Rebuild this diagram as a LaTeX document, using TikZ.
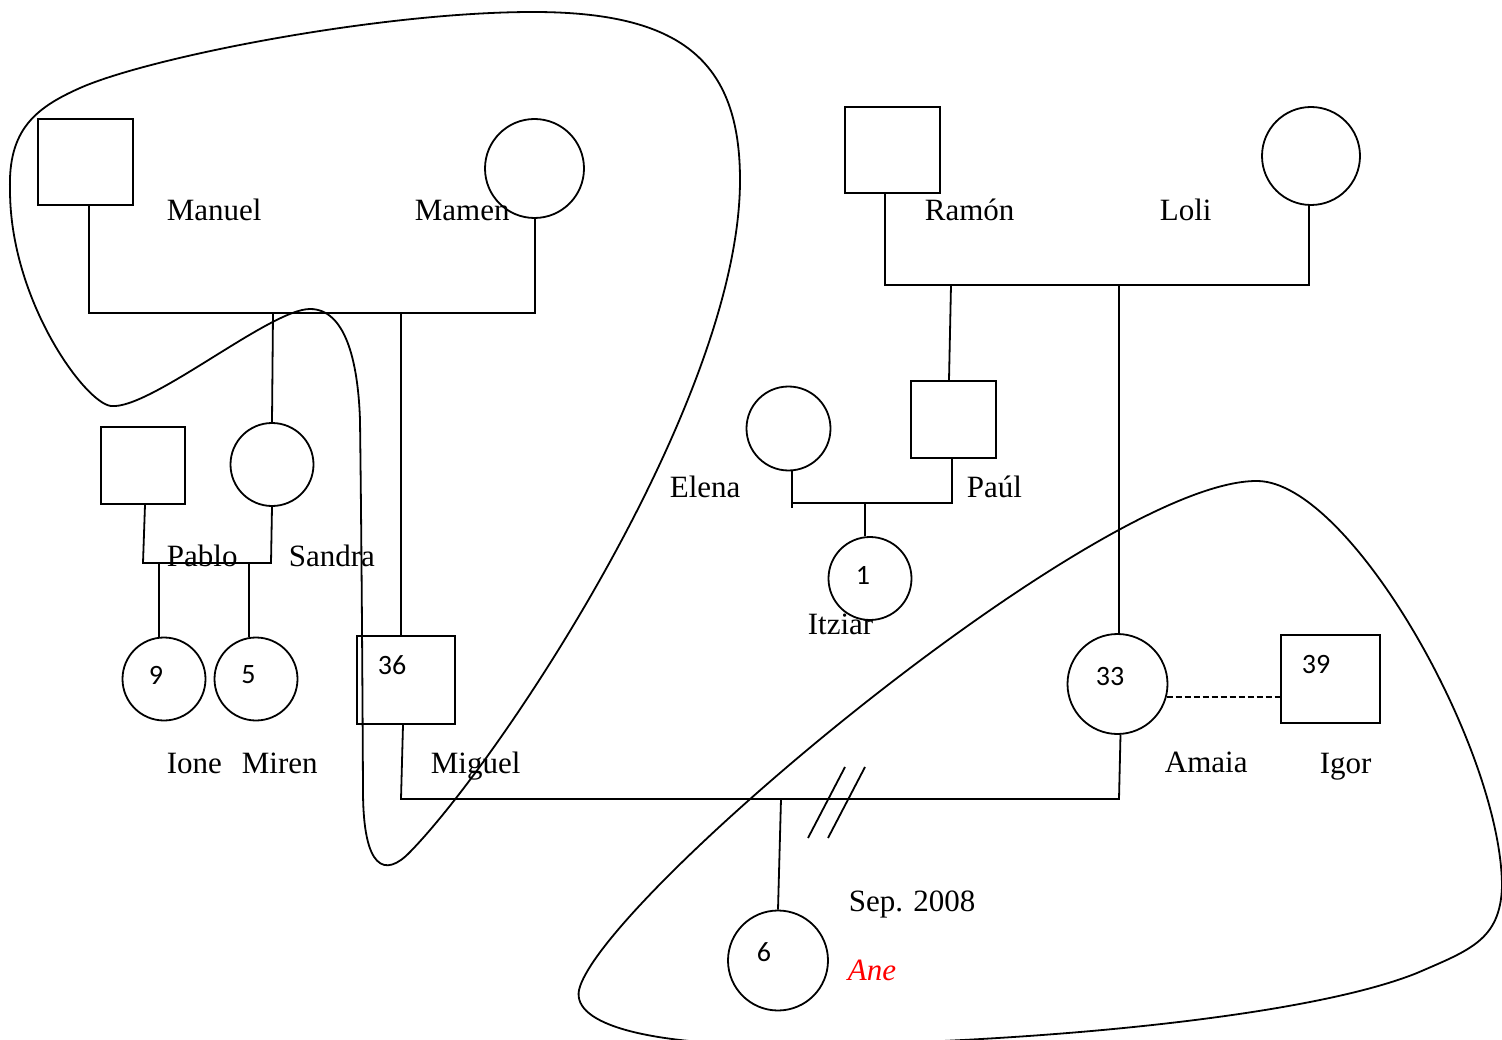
\documentclass[tikz,border=0pt]{standalone}
\usepackage{fontspec}
\setmainfont{Liberation Serif}
\newfontfamily\numfont{Carlito}
\begin{document}
\begin{tikzpicture}[x=1pt,y=-1pt, line width=1.8pt,
  lbl/.style={font=\fontsize{31}{37}\selectfont, inner sep=0pt, anchor=base west},
  num/.style={font=\numfont\fontsize{28}{34}\selectfont, inner sep=0pt},
  male/.style={draw, rectangle, inner sep=0pt},
  female/.style={draw, circle, inner sep=0pt},
  group/.style={line width=1.8pt},
  sep/.style={dash pattern=on 6pt off 3pt}]
\useasboundingbox (0,0) rectangle (1502,1040);
\clip (0,0) rectangle (1502,1040);

% ---- persons ----
\node[male, minimum width=95pt, minimum height=86pt] (manuel) at (85.5,162) {};
\node[female, minimum size=99pt] (mamen) at (534.5,168.5) {};
\node[male, minimum width=95pt, minimum height=86pt] (ramon) at (892.5,150) {};
\node[female, minimum size=98pt] (loli) at (1311,156) {};
\node[male, minimum width=84pt, minimum height=77pt] (pablo) at (143,465.5) {};
\node[female, minimum size=83pt] (sandra) at (272,464.5) {};
\node[female, minimum size=84pt] (elena) at (788.5,428.5) {};
\node[male, minimum width=85pt, minimum height=77pt] (paul) at (953.5,419.5) {};
\node[female, minimum size=83pt] (itziar) at (870,578.5) {};
\node[female, minimum size=83pt] (ione) at (164,679) {};
\node[female, minimum size=83pt] (miren) at (256,679) {};
\node[male, minimum width=98pt, minimum height=88pt] (miguel) at (406,680) {};
\node[female, minimum size=100pt] (amaia) at (1117.5,684) {};
\node[male, minimum width=99pt, minimum height=88pt] (igor) at (1330.5,679) {};
\node[female, minimum size=100pt] (ane) at (778,960.5) {};

% ---- ages ----
\node[num] (n9) at (156,675) {9};
\node[num] (n5) at (248.5,675) {5};
\node[num] (n36) at (392,665) {36};
\node[num] (n1) at (863,575) {1};
\node[num] (n33) at (1110,676.5) {33};
\node[num] (n39) at (1316,664.5) {39};
\node[num] (n6) at (764,952) {6};

% ---- names ----
\node[lbl] (lManuel) at (166,221) {Manuel};
\node[lbl] (lMamen) at (414,221) {Mamen};
\node[lbl] (lRamon) at (924,221) {Ramón};
\node[lbl] (lLoli) at (1159,221) {Loli};
\node[lbl] (lElena) at (669,497) {Elena};
\node[lbl] (lPaul) at (966,497) {Paúl};
\node[lbl] (lPablo) at (166,566) {Pablo};
\node[lbl] (lSandra) at (288,566) {Sandra};
\node[lbl] (lItziar) at (807,634) {Itziar};
\node[lbl] (lIone) at (166,773) {Ione};
\node[lbl] (lMiren) at (241,773) {Miren};
\node[lbl] (lMiguel) at (430,773) {Miguel};
\node[lbl] (lAmaia) at (1164,772) {Amaia};
\node[lbl] (lIgor) at (1319,773) {Igor};
\node[lbl] (lSep) at (848,911) {Sep. 2008};
\node[lbl, text=red, font=\fontsize{31}{37}\selectfont\itshape] (lAne) at (847,980) {Ane};

% ---- Manuel + Mamen ----
\coordinate (mmL) at (89,313); \coordinate (mmR) at (535,313);
\draw (manuel.south -| mmL) -- (mmL) -- (mmR) -- (mamen.south -| mmR);
\coordinate (jSandra) at (273,313);
\draw (jSandra) -- (sandra.north);
\coordinate (jMiguel) at (401,313);
\draw (jMiguel) -- (jMiguel |- miguel.north);

% ---- Pablo + Sandra ----
\coordinate (psL) at (143,563); \coordinate (psR) at (271,563);
\draw ([xshift=2pt]pablo.south) -- (psL) -- (psR) -- (sandra.south);
\coordinate (jIone) at (159,563);
\draw (jIone) -- (jIone |- ione.north);
\coordinate (jMiren) at (249,563);
\draw (jMiren) -- (jMiren |- miren.north);

% ---- Ramon + Loli ----
\coordinate (rlL) at (885,285); \coordinate (rlR) at (1309,285);
\draw (ramon.south -| rlL) -- (rlL) -- (rlR) -- (loli.south -| rlR);
\coordinate (jPaul) at (951,285);
\draw (jPaul) -- ([xshift=-4.5pt]paul.north);
\coordinate (jAmaia) at (1119,285);
\draw (jAmaia) -- (jAmaia |- amaia.north);

% ---- Elena + Paul ----
\coordinate (epL) at (792,503); \coordinate (epR) at (952,503);
\coordinate (epT) at (792,508);
\draw (elena.south -| epL) -- (epT);
\draw (epL) -- (epR) -- (paul.south -| epR);
\coordinate (jItziar) at (865,503);
\draw (jItziar) -- (jItziar |- itziar.north);

% ---- Miguel + Amaia ----
\coordinate (maL) at (401,799); \coordinate (maR) at (1119,799);
\draw ([xshift=-3pt]miguel.south) -- (maL) -- (maR) -- ([xshift=3pt]amaia.south);
\coordinate (jAne) at (781,799);
\draw (jAne) -- (ane.north);
% divorce marks
\draw (808,838) -- (845,767);
\draw (828,838) -- (865,767);

% ---- Amaia - Igor ----
\draw[sep] (amaia.-15) -- (amaia.-15 -| igor.west);

% ---- household loops ----
\draw[group] (533,12)
  .. controls (680,12) and (740,60) .. (740,180)
  .. controls (740,400) and (500,760) .. (410,852)
  .. controls (385,878) and (363,870) .. (363,790)
  .. controls (362,600) and (361,500) .. (360,420)
  .. controls (358,360) and (345,309) .. (310,309)
  .. controls (270,309) and (150,410) .. (111,406)
  .. controls (85,403) and (10,300) .. (10,190)
  .. controls (8,130) and (35,108) .. (80,88)
  .. controls (150,57) and (380,12) .. (533,12) -- cycle;

\draw[group] (579,990)
  .. controls (600,900) and (1100,480) .. (1257,481)
  .. controls (1350,481) and (1502,750) .. (1502,887)
  .. controls (1500,940) and (1470,950) .. (1417,973)
  .. controls (1300,1020) and (1000,1045) .. (780,1045)
  .. controls (650,1045) and (572,1025) .. (579,990) -- cycle;
\end{tikzpicture}
\end{document}
